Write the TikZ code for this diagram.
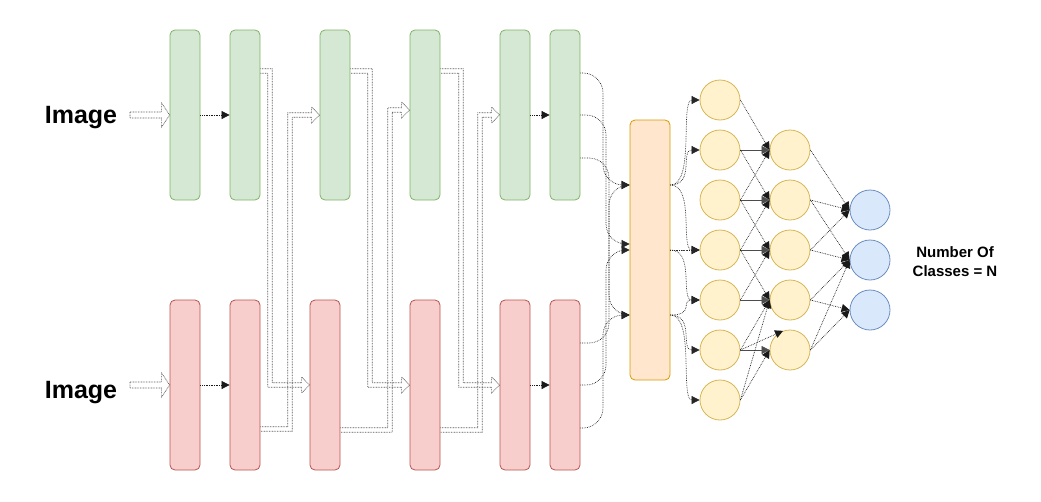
\documentclass[tikz,border=0pt]{standalone}
\usepackage{fontspec}
\setmainfont{Liberation Sans}
\usetikzlibrary{arrows.meta,calc}
\definecolor{gfill}{HTML}{D5E8D4}\definecolor{gdraw}{HTML}{82B366}
\definecolor{rfill}{HTML}{F8CECC}\definecolor{rdraw}{HTML}{B85450}
\definecolor{ofill}{HTML}{FFE6CC}\definecolor{odraw}{HTML}{D79B00}
\definecolor{yfill}{HTML}{FFF2CC}\definecolor{ydraw}{HTML}{D6B656}
\definecolor{bfill}{HTML}{DAE8FC}\definecolor{bdraw}{HTML}{6C8EBF}
% skip arrow: #1 start, #2 x of vertical run, #3 tip, #4 sign (1 = down, (-1) = up)
\newcommand\skiparrow[4]{\draw[flexst] let \p1=#1, \p2=#3 in
 (\x1,{\y1+2.2pt}) -- ({#2pt+#4*2.2pt},{\y1+2.2pt}) -- ({#2pt+#4*2.2pt},{\y2+2.2pt})
 -- ({\x2-8pt},{\y2+2.2pt}) -- ({\x2-8pt},{\y2+8pt}) -- (\x2,\y2) -- ({\x2-8pt},{\y2-8pt})
 -- ({\x2-8pt},{\y2-2.2pt}) -- ({#2pt-#4*2.2pt},{\y2-2.2pt}) -- ({#2pt-#4*2.2pt},{\y1-2.2pt}) -- (\x1,{\y1-2.2pt});}
% straight input arrow: #1 start, #2 tip
\newcommand\inarrow[2]{\draw[flexst] let \p1=#1, \p2=#2 in
 (\x1,{\y1+3pt}) -- ({\x2-8pt},{\y1+3pt}) -- ({\x2-8pt},{\y2+12pt}) -- (\x2,\y2)
 -- ({\x2-8pt},{\y2-12pt}) -- ({\x2-8pt},{\y2-3pt}) -- (\x1,{\y2-3pt}) -- cycle;}
\begin{document}
\begin{tikzpicture}[x=1pt,y=-1pt,
  box/.style={rounded corners=5pt, minimum width=30pt, minimum height=170pt, inner sep=0pt, line width=0.8pt},
  gbox/.style={box, fill=gfill, draw=gdraw},
  rbox/.style={box, fill=rfill, draw=rdraw},
  neuron/.style={circle, minimum size=40pt, inner sep=0pt, line width=0.8pt},
  yn/.style={neuron, fill=yfill, draw=ydraw},
  bn/.style={neuron, fill=bfill, draw=bdraw},
  tipst/.style={-{Triangle[length=8pt,width=8pt]}},
  conn/.style={densely dotted, line width=0.7pt, black!90, tipst},
  hconn/.style={line width=0.6pt, black!70, tipst},
  curve/.style={densely dotted, line width=0.7pt, black!85, rounded corners=20pt, tipst},
  ocurve/.style={densely dotted, line width=0.7pt, black!85, tipst},
  flexst/.style={draw=black!65, line width=0.7pt, dash pattern=on 0.8pt off 0.8pt},
  lbl/.style={font=\bfseries\fontsize{25}{29}\selectfont}
]
\useasboundingbox (0,0) rectangle (1041,501);

% boxes
\node[gbox] (g1) at (185,115) {};
\node[gbox] (g2) at (245,115) {};
\node[gbox] (g3) at (335,115) {};
\node[gbox] (g4) at (425,115) {};
\node[gbox] (g5) at (515,115) {};
\node[gbox] (g6) at (565,115) {};
\node[rbox] (r1) at (185,385) {};
\node[rbox] (r2) at (245,385) {};
\node[rbox] (r3) at (325,385) {};
\node[rbox] (r4) at (425,385) {};
\node[rbox] (r5) at (515,385) {};
\node[rbox] (r6) at (565,385) {};
\node[box, fill=ofill, draw=odraw, minimum width=40pt, minimum height=260pt] (o) at (650,250) {};

% neurons
\foreach \i/\y in {1/100,2/150,3/200,4/250,5/300,6/350,7/400} \node[yn] (a\i) at (720,\y) {};
\foreach \i/\y in {1/150,2/200,3/250,4/300,5/350} \node[yn] (b\i) at (790,\y) {};
\foreach \i/\y in {1/210,2/260,3/310} \node[bn] (c\i) at (870,\y) {};

% labels
\node[lbl] (img1) at (81,118) {Image};
\node[lbl] (img2) at (81,393) {Image};
\node[font=\bfseries\fontsize{15}{19}\selectfont, align=center] (ncls) at (955,262) {Number Of\\Classes = N};

% input arrows
\coordinate (in1) at (130,115);
\coordinate (in2) at (130,385);
\inarrow{(in1)}{(g1.west)}
\inarrow{(in2)}{(r1.west)}

% sequential arrows
\draw[conn] (g1) -- (g2);
\draw[conn] (r1) -- (r2);
\draw[conn] (g5) -- (g6);
\draw[conn] (r5) -- (r6);

% skip connections
\coordinate (t4) at ($(g4.west)+(0,-5)$);
\skiparrow{($(g2.east)+(0,-44)$)}{270}{(r3.west)}{1}
\skiparrow{($(r2.east)+(0,44)$)}{290}{(g3.west)}{(-1)}
\skiparrow{($(g3.east)+(0,-44)$)}{370}{(r4.west)}{1}
\skiparrow{($(r3.east)+(0,45)$)}{390}{(t4)}{(-1)}
\skiparrow{($(g4.east)+(0,-44)$)}{461}{(r5.west)}{1}
\skiparrow{($(r4.east)+(0,45)$)}{480}{(g5.west)}{(-1)}

% into orange
\coordinate (o1) at ($(o.west)+(0,-65)$);
\coordinate (o2a) at ($(o.west)+(0,-6)$);
\coordinate (o2) at (o.west);
\coordinate (o3) at ($(o.west)+(0,65)$);
\draw[curve] ($(g6.east)+(0,-42)$) -| (603,185) -- (o1);
\draw[curve] (g6.east) -| (606,244) -- (o2a);
\draw[curve] ($(g6.east)+(0,43)$) -| (609,315) -- (o3);
\draw[curve] ($(r6.east)+(0,-42)$) -| (609,185) -- (o1);
\draw[curve] (r6.east) -| (606,250) -- (o2);
\draw[curve] ($(r6.east)+(0,43)$) -| (603,315) -- (o3);

% out of orange
\coordinate (p1) at ($(o.east)+(0,-65)$);
\coordinate (p2) at (o.east);
\coordinate (p3) at ($(o.east)+(0,65)$);
\draw[ocurve] (p1) .. controls (695,185) and (680,100) .. (a1.west);
\draw[ocurve] (p1) .. controls (695,185) and (680,150) .. (a2.west);
\draw[ocurve] (p1) .. controls (695,185) and (680,250) .. (a4.west);
\draw[ocurve] (p2) .. controls (690,250) and (680,250) .. (a4.west);
\draw[ocurve] (p2) .. controls (695,250) and (680,300) .. (a5.west);
\draw[ocurve] (p3) .. controls (695,315) and (680,300) .. (a5.west);
\draw[ocurve] (p3) .. controls (695,315) and (680,350) .. (a6.west);
\draw[ocurve] (p3) .. controls (695,315) and (680,400) .. (a7.west);

% col1 -> col2
\draw[conn] (a1.east) -- (b1.west);
\draw[hconn] (a2.east) -- (b1.west);
\draw[conn] (a2.east) -- (b2.west);
\draw[conn] (a3.east) -- (b1.west);
\draw[hconn] (a3.east) -- (b2.west);
\draw[conn] (a3.east) -- (b3.west);
\draw[conn] (a4.east) -- (b2.west);
\draw[hconn] (a4.east) -- (b3.west);
\draw[conn] (a4.east) -- (b4.west);
\draw[conn] (a5.east) -- (b3.west);
\draw[hconn] (a5.east) -- (b4.west);
\draw[conn] (a6.east) -- (b4.west);
\draw[hconn] (a6.east) -- (b5.west);
\draw[conn] (a6.east) -- (b5.110);
\draw[conn] (a7.east) -- (b4.west);
\draw[conn] (a7.east) -- (b5.west);

% col2 -> output
\draw[conn] (b1.east) -- (c1.west);
\draw[conn] (b2.east) -- (c1.west);
\draw[conn] (b2.east) -- (c2.west);
\draw[conn] (b3.east) -- (c1.west);
\draw[conn] (b3.east) -- (c2.west);
\draw[conn] (b4.east) -- (c2.west);
\draw[conn] (b4.east) -- (c3.west);
\draw[conn] (b5.east) -- (c2.west);
\draw[conn] (b5.east) -- (c3.west);
\end{tikzpicture}
\end{document}
